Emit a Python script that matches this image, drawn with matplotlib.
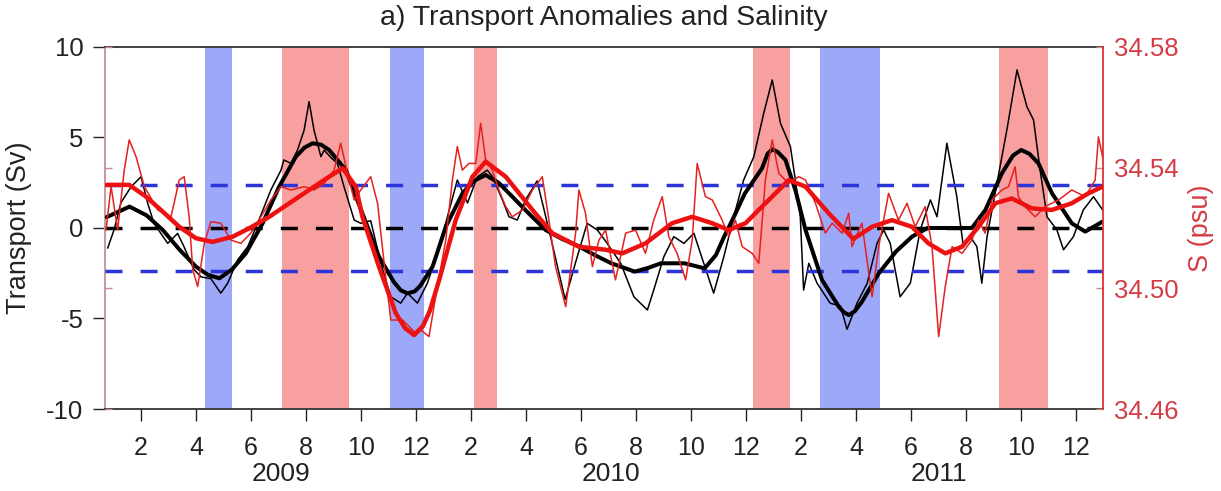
import matplotlib
matplotlib.use("Agg")
import matplotlib.pyplot as plt
import matplotlib.transforms as mtransforms

plt.rcParams['font.family'] = ['Liberation Sans', 'DejaVu Sans']
plt.rcParams['axes.unicode_minus'] = False

# time axis: months since 1 Jan 2009
month_ticks = [1, 3, 5, 7, 9, 11, 13, 15, 17, 19, 21, 23, 25, 27, 29, 31, 33, 35]
month_labels = ['2', '4', '6', '8', '10', '12'] * 3
years = ['2009', '2010', '2011']
year_pos = [6.1, 18.1, 30.0]

# shaded periods (start, end) in months
blue_periods = [(3.34, 4.32), (10.05, 11.29), (25.70, 27.85)]
red_periods = [(6.11, 8.55), (13.09, 13.93), (23.24, 24.61), (32.18, 33.96)]

# transport anomaly (Sv), raw
t_trans_raw = [-0.21, 0.02, 0.27, 0.64, 1.00, 1.24, 1.47, 1.72, 1.97, 2.33,
               2.56, 2.93, 3.18, 3.54, 3.90, 4.15, 4.51, 4.88, 5.24, 5.72,
               6.09, 6.19, 6.45, 6.69, 6.93, 7.11, 7.29, 7.54, 7.66, 7.90,
               8.14, 8.38, 8.75, 8.99, 9.35, 9.72, 10.08, 10.44, 10.69, 11.05,
               11.41, 11.78, 12.14, 12.50, 12.87, 13.23, 13.59, 13.78, 14.14, 14.38,
               14.68, 14.98, 15.40, 15.89, 16.42, 16.80, 17.22, 17.59, 17.95, 18.44,
               18.92, 19.41, 19.64, 20.01, 20.37, 20.74, 21.10, 21.46, 21.82, 22.19,
               22.55, 22.91, 23.28, 23.64, 23.95, 24.25, 24.61, 24.79, 24.97, 25.09,
               25.28, 25.58, 26.06, 26.43, 26.67, 27.03, 27.40, 27.76, 28.00, 28.24,
               28.60, 28.97, 29.33, 29.70, 29.94, 30.30, 30.66, 30.90, 31.15, 31.39,
               31.57, 31.76, 32.12, 32.48, 32.85, 33.21, 33.45, 33.69, 33.94, 34.30,
               34.54, 34.90, 35.26, 35.63, 35.96]
trans_raw = [-1.1, -0.1, 1.4, 2.28, 2.83, 1.38, 0.26, -0.3, -0.85, -0.3,
             -1.03, -2.3, -2.7, -2.8, -3.6, -3.05, -1.77, -1.03, 0.26, 2.1,
             3.2, 3.76, 3.57, 4.31, 5.41, 6.98, 5.4, 3.94, 4.3, 3.9,
             3.57, 2.28, 0.44, 0.26, 0.4, -1.95, -3.8, -4.15, -3.6, -4.15,
             -3.05, -1.4, 0.62, 2.65, 1.38, 2.83, 3.2, 2.83, 1.55, 0.62,
             0.44, 1.55, 2.6, -0.48, -3.95, -1.9, 0.26, -0.11, -0.85, -1.95,
             -3.8, -4.53, -3.43, -1.58, -0.48, -0.85, -0.29, -1.95, -3.6, -1.58,
             0.62, 2.65, 3.94, 6.34, 8.18, 5.78, 4.5, 2.65, 0.62, -3.43,
             -1.95, -3.05, -4.16, -4.3, -5.6, -4.16, -3.06, -0.85, -0.11, -0.85,
             -3.8, -3.05, -0.11, 1.55, 0.62, 4.68, 1.73, -1.03, -0.48, -1.03,
             -3.05, -0.48, 2.47, 5.41, 8.73, 6.7, 5.97, 3.2, 0.62, -0.11,
             -1.2, -0.48, 1.0, 1.73, 1.0]

# transport anomaly (Sv), low-pass
t_trans_smooth = [-0.25, 0.58, 1.2, 1.79, 2.4, 3.0, 3.45, 3.85, 4.3, 4.81,
                  5.42, 6.02, 6.63, 6.95, 7.24, 7.55, 7.84, 8.45, 9.05, 9.65,
                  10.2, 10.45, 10.69, 10.95, 11.15, 11.6, 12.08, 12.69, 13.1, 13.53,
                  14.0, 14.5, 15.1, 15.71, 16.3, 16.9, 17.5, 18.1, 18.95, 19.45,
                  19.9, 20.76, 21.49, 21.9, 22.2, 22.55, 22.95, 23.58, 23.78, 23.95,
                  24.15, 24.43, 24.79, 25.16, 25.76, 26.37, 26.55, 26.73, 26.95, 27.2,
                  27.83, 28.45, 29.03, 29.6, 30.4, 31.21, 31.7, 32.3, 32.7, 33.0,
                  33.3, 33.63, 34.12, 34.84, 35.33, 35.96]
trans_smooth = [0.6, 1.18, 0.7, -0.11, -1.2, -2.14, -2.6, -2.78, -2.3, -1.4,
                0.26, 2.28, 3.94, 4.45, 4.68, 4.6, 4.31, 3.2, 0.8, -1.58,
                -3.0, -3.45, -3.61, -3.5, -3.2, -2.14, 0.07, 1.92, 2.6, 2.93,
                2.5, 1.73, 0.8, -0.11, -0.6, -1.0, -1.5, -1.95, -2.41, -2.2,
                -1.95, -1.95, -2.23, -1.5, -0.48, 0.6, 1.9, 3.3, 4.1, 4.35,
                4.2, 3.76, 2.1, -0.11, -2.87, -4.35, -4.65, -4.81, -4.6, -4.1,
                -2.49, -1.3, -0.48, 0.0, 0.0, 0.0, 1.0, 3.02, 4.0, 4.31,
                4.1, 3.57, 1.92, 0.26, -0.2, 0.35]

# salinity (psu), raw
t_sal_raw = [-0.27, -0.09, 0.15, 0.39, 0.57, 0.82, 1.12, 1.61, 2.09, 2.39,
             2.57, 2.75, 2.88, 3.06, 3.30, 3.54, 3.90, 4.27, 4.63, 4.99,
             5.36, 5.72, 6.09, 6.45, 6.93, 7.30, 7.66, 8.02, 8.26, 8.51,
             8.75, 8.99, 9.35, 9.60, 9.84, 10.08, 10.51, 10.99, 11.17, 11.47,
             11.71, 12.08, 12.32, 12.50, 12.68, 12.92, 13.17, 13.35, 13.53, 13.77,
             14.01, 14.26, 14.50, 14.87, 15.23, 15.59, 15.83, 16.07, 16.44, 16.80,
             16.92, 17.16, 17.41, 17.65, 17.89, 18.25, 18.62, 18.98, 19.34, 19.64,
             19.95, 20.19, 20.49, 20.80, 21.04, 21.22, 21.52, 21.77, 22.13, 22.37,
             22.61, 22.86, 23.22, 23.46, 23.70, 23.95, 24.19, 24.55, 24.91, 25.16,
             25.52, 25.88, 26.13, 26.49, 26.73, 26.85, 27.21, 27.58, 27.82, 28.18,
             28.54, 28.85, 29.15, 29.51, 29.76, 30.00, 30.24, 30.49, 30.85, 31.21,
             31.45, 31.69, 31.94, 32.30, 32.54, 32.78, 32.90, 33.14, 33.51, 33.87,
             34.36, 34.84, 35.33, 35.69, 35.81, 35.96]
sal_raw = [34.5194, 34.5338, 34.5194, 34.5392, 34.5492, 34.5436, 34.5337, 34.5260, 34.5237, 34.5359,
           34.5370, 34.5237, 34.5062, 34.5006, 34.5149, 34.5221, 34.5216, 34.5160, 34.5149, 34.5183,
           34.5237, 34.5293, 34.5337, 34.5326, 34.5337, 34.5326, 34.5348, 34.5392, 34.5481, 34.5380,
           34.5293, 34.5326, 34.5370, 34.5282, 34.5083, 34.4895, 34.4895, 34.4851, 34.4862, 34.4840,
           34.4972, 34.5160, 34.5359, 34.5470, 34.5392, 34.5414, 34.5414, 34.5547, 34.5426, 34.5392,
           34.5326, 34.5271, 34.5237, 34.5260, 34.5326, 34.5370, 34.5226, 34.5072, 34.4939, 34.5183,
           34.5326, 34.5249, 34.5072, 34.5160, 34.5193, 34.5028, 34.5183, 34.5193, 34.5116, 34.5226,
           34.5304, 34.5171, 34.5116, 34.5028, 34.5160, 34.5414, 34.5304, 34.5293, 34.5226, 34.5171,
           34.5226, 34.5138, 34.5116, 34.5083, 34.5359, 34.5492, 34.5381, 34.5348, 34.5370, 34.5359,
           34.5282, 34.5183, 34.5216, 34.5183, 34.5249, 34.5138, 34.5216, 34.4972, 34.5138, 34.5315,
           34.5226, 34.5282, 34.5204, 34.5271, 34.5138, 34.4840, 34.5006, 34.5138, 34.5116, 34.5160,
           34.5226, 34.5183, 34.5293, 34.5326, 34.5337, 34.5403, 34.5304, 34.5271, 34.5237, 34.5271,
           34.5293, 34.5326, 34.5304, 34.5359, 34.5502, 34.5436]

# salinity (psu), low-pass
t_sal_smooth = [-0.25, 0.57, 1.18, 1.79, 2.39, 3.0, 3.6, 4.33, 4.93, 5.66,
                6.39, 7.11, 7.84, 8.33, 8.81, 9.05, 9.65, 10.26, 10.6, 10.93,
                11.25, 11.5, 11.84, 12.44, 13.05, 13.53, 14.26, 15.23, 15.95, 16.92,
                17.89, 18.5, 19.34, 20.31, 21.04, 21.76, 22.37, 22.98, 23.58, 24.19,
                24.55, 25.16, 26.0, 26.9, 27.58, 28.3, 29.03, 29.63, 30.24, 30.85,
                31.45, 32.06, 32.66, 33.39, 34.12, 34.84, 35.45, 35.96]
sal_smooth = [34.5343, 34.5343, 34.5304, 34.5254, 34.5204, 34.5166, 34.5154, 34.5171, 34.5199, 34.5237,
              34.5282, 34.5326, 34.5370, 34.5398, 34.5337, 34.5237, 34.5072, 34.4918, 34.4868, 34.4845,
              34.4875, 34.4925, 34.5028, 34.5226, 34.5370, 34.5420, 34.5370, 34.5260, 34.5183, 34.5138,
              34.5128, 34.5116, 34.5149, 34.5216, 34.5237, 34.5216, 34.5193, 34.5216, 34.5271, 34.5326,
              34.5359, 34.5337, 34.5249, 34.5164, 34.5204, 34.5226, 34.5204, 34.5149, 34.5116, 34.5138,
              34.5204, 34.5282, 34.5298, 34.5265, 34.5260, 34.5282, 34.5315, 34.5337]

threshold = 2.35

red_txt = '#d43c46'
ink = '#222222'
fig = plt.figure(figsize=(12.21, 4.91), dpi=100)
ax = fig.add_axes([0.086, 0.167, 0.817, 0.7373])

for a, b in blue_periods:
    ax.axvspan(a, b, color='#9ea8f8', lw=0, zorder=0)
for a, b in red_periods:
    ax.axvspan(a, b, color='#f8a0a0', lw=0, zorder=0)

ax.plot(t_trans_raw, trans_raw, color='black', lw=1.1, zorder=2)
ax.axhline(threshold, color='#2b35d8', lw=2.5, dashes=(4.9, 5.2), zorder=3)
ax.axhline(-threshold, color='#2b35d8', lw=2.5, dashes=(4.9, 5.2), zorder=3)
ax.axhline(0, color='black', lw=2.5, dashes=(4.9, 5.2), zorder=3)
ax.plot(t_trans_smooth, trans_smooth, color='black', lw=2.9, zorder=4,
        solid_joinstyle='round', solid_capstyle='round')

ax.set_xlim(-0.31, 35.96)
ax.set_ylim(-10, 10)
ax.set_yticks([-10, -5, 0, 5, 10])
ax.set_xticks(month_ticks)
ax.set_xticklabels(month_labels)
ax.tick_params(axis='y', direction='out', length=8.5, width=1, pad=7,
               labelsize=18.5, colors=ink)
ax.tick_params(axis='x', direction='out', length=8.5, width=1, pad=11,
               labelsize=18, colors=ink)
ax.set_ylabel('Transport (Sv)', fontsize=19.5, color=ink, labelpad=10)
ax.set_title('a) Transport Anomalies and Salinity', fontsize=20.5,
             color=ink, pad=16)

trans = mtransforms.blended_transform_factory(ax.transData, ax.transAxes)
for yr, xp in zip(years, year_pos):
    ax.text(xp, -0.18, yr, transform=trans, ha='center', va='center',
            fontsize=19, color=ink)

for s in ['top', 'bottom']:
    ax.spines[s].set_color('#333333')
    ax.spines[s].set_linewidth(1.3)
ax.spines['left'].set_color('#c8999f')
ax.spines['left'].set_linewidth(1.5)
ax.spines['right'].set_visible(False)

ax2 = ax.twinx()
ax2.plot(t_sal_raw, sal_raw, color='#e62020', lw=1.1, zorder=2)
ax2.plot(t_sal_smooth, sal_smooth, color='#ee1111', lw=3.2, zorder=4,
         solid_joinstyle='round', solid_capstyle='round')
ax2.set_ylim(34.46, 34.58)
ax2.set_yticks([34.46, 34.50, 34.54, 34.58])
ax2.set_yticklabels(['34.46', '34.50', '34.54', '34.58'])
ax2.yaxis.set_ticks_position('both')
ax2.tick_params(axis='y', direction='in', length=5, width=1, pad=8,
                labelsize=18.5, colors=red_txt, labelleft=False, labelright=True)
ax2.tick_params(axis='y', which='major', left=True, right=True, color='#c88a92')
ax2.spines['right'].set_color('#e03030')
ax2.spines['right'].set_linewidth(1.3)
for s in ['left', 'top', 'bottom']:
    ax2.spines[s].set_visible(False)
ax2.set_ylabel('S (psu)', fontsize=19.5, color=red_txt, rotation=90, labelpad=7)
ax2.yaxis.set_label_position('right')

fig.savefig('out.png', dpi=100)
